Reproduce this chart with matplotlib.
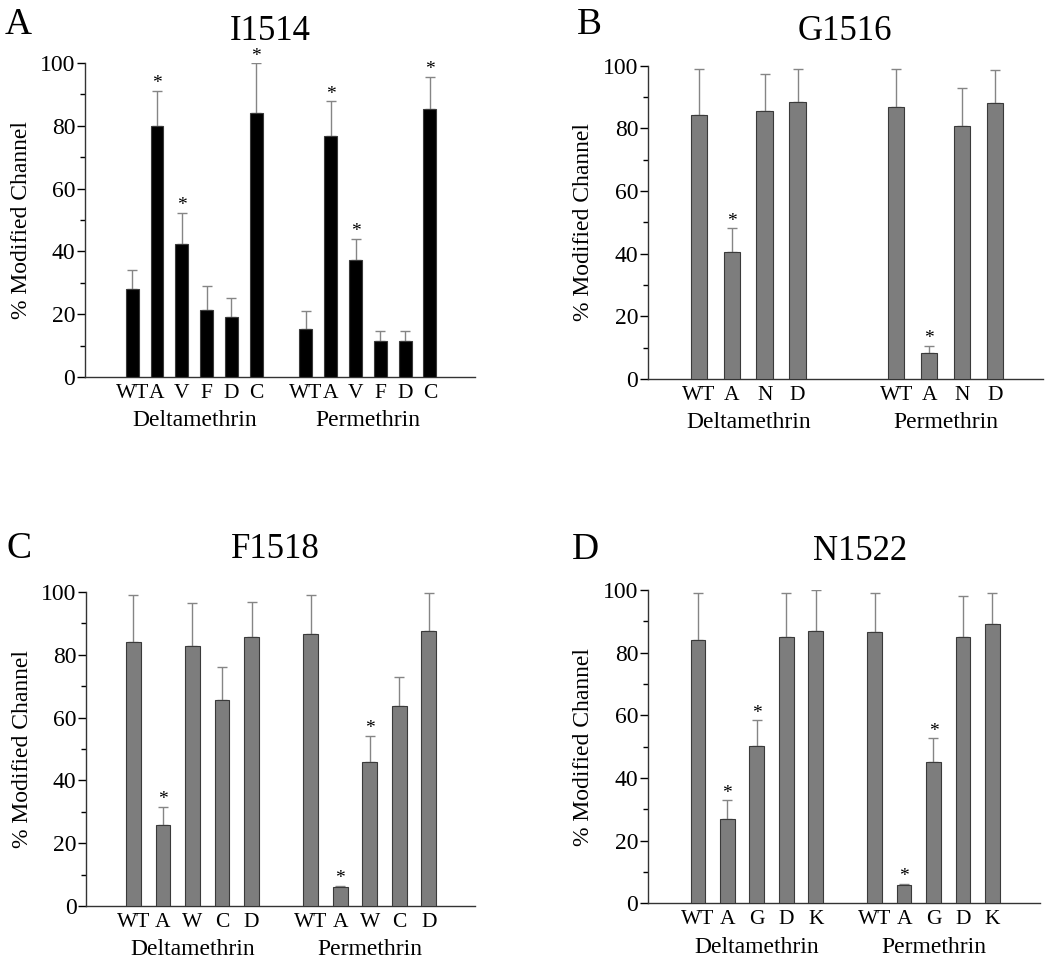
import matplotlib
matplotlib.use("Agg")
import matplotlib.pyplot as plt
from matplotlib.ticker import MultipleLocator

plt.rcParams["font.family"] = ["Liberation Serif", "DejaVu Serif"]

# Panel A - I1514
A_LABELS = ["WT", "A", "V", "F", "D", "C"]
A_DELTA = [28.2, 80.0, 42.3, 21.3, 19.0, 83.9]
A_DELTA_ERR = [5.8, 11.2, 10.0, 7.7, 6.2, 15.9]
A_PERM = [15.2, 76.8, 37.3, 11.5, 11.6, 85.3]
A_PERM_ERR = [5.8, 11.0, 6.7, 3.1, 3.0, 10.3]
A_DELTA_SIG = ["A", "V", "C"]
A_PERM_SIG = ["A", "V", "C"]

# Panel B - G1516
B_LABELS = ["WT", "A", "N", "D"]
B_DELTA = [84.2, 40.5, 85.5, 88.5]
B_DELTA_ERR = [14.9, 7.6, 11.9, 10.6]
B_PERM = [86.7, 8.2, 80.8, 88.1]
B_PERM_ERR = [12.2, 2.5, 12.1, 10.4]
B_DELTA_SIG = ["A"]
B_PERM_SIG = ["A"]

# Panel C - F1518
C_LABELS = ["WT", "A", "W", "C", "D"]
C_DELTA = [84.0, 25.7, 82.8, 65.7, 85.5]
C_DELTA_ERR = [15.0, 5.9, 13.5, 10.3, 11.3]
C_PERM = [86.6, 6.1, 45.7, 63.6, 87.6]
C_PERM_ERR = [12.3, 0.3, 8.4, 9.3, 11.9]
C_DELTA_SIG = ["A"]
C_PERM_SIG = ["A", "W"]

# Panel D - N1522
D_LABELS = ["WT", "A", "G", "D", "K"]
D_DELTA = [84.1, 26.8, 50.1, 85.1, 86.8]
D_DELTA_ERR = [15.0, 6.0, 8.3, 14.0, 13.0]
D_PERM = [86.6, 5.9, 45.2, 85.1, 89.0]
D_PERM_ERR = [12.4, 0.3, 7.4, 13.1, 10.1]
D_DELTA_SIG = ["A", "G"]
D_PERM_SIG = ["A", "G"]

GROUPS = ["Deltamethrin", "Permethrin"]


def draw_panel(ax, labels, delta, delta_err, perm, perm_err, delta_sig, perm_sig,
               gap, xlim, color, width=0.5):
    n = len(labels)
    x_delta = list(range(n))
    x_perm = [i + n + gap for i in range(n)]

    for xs, vals, errs, sig in [(x_delta, delta, delta_err, delta_sig),
                                (x_perm, perm, perm_err, perm_sig)]:
        ax.bar(xs, vals, width=width, color=color, edgecolor="#3a3a3a",
               linewidth=0.8, zorder=3)
        ax.errorbar(xs, vals, yerr=[[0] * n, errs], fmt="none", ecolor="#858585",
                    elinewidth=1.0, capsize=3.5, capthick=1.0, zorder=2)
        # significance stars
        for x, v, e, lab in zip(xs, vals, errs, labels):
            if lab in sig:
                ax.annotate("*", xy=(x, v + e), xytext=(0, -1), textcoords="offset points",
                            ha="center", va="bottom", fontsize=14, annotation_clip=False)

    ax.set_xticks(x_delta + x_perm)
    ax.set_xticklabels(labels + labels, fontsize=15.5)
    ax.tick_params(axis="x", length=0, pad=5)

    # group names under tick labels
    for xs, name in zip([x_delta, x_perm], GROUPS):
        ax.annotate(name, xy=((xs[0] + xs[-1]) / 2, 0), xytext=(0, -24),
                    textcoords="offset points", ha="center", va="top",
                    fontsize=17, annotation_clip=False)

    ax.set_xlim(*xlim)
    ax.set_ylim(0, 100)
    ax.yaxis.set_major_locator(MultipleLocator(20))
    ax.yaxis.set_minor_locator(MultipleLocator(10))
    ax.tick_params(axis="y", which="major", length=6, width=1, labelsize=17, pad=1)
    ax.tick_params(axis="y", which="minor", length=3.5, width=1)
    ax.set_ylabel("% Modified Channel", fontsize=17, labelpad=6)
    for s in ["top", "right"]:
        ax.spines[s].set_visible(False)
    for s in ["left", "bottom"]:
        ax.spines[s].set_linewidth(1.0)
        ax.spines[s].set_color("#333333")


fig = plt.figure(figsize=(10.5, 9.67), dpi=100)

ax_a = fig.add_axes([0.081, 0.610, 0.371, 0.325])
ax_b = fig.add_axes([0.617, 0.608, 0.376, 0.324])
ax_c = fig.add_axes([0.082, 0.063, 0.370, 0.325])
ax_d = fig.add_axes([0.617, 0.066, 0.373, 0.324])

draw_panel(ax_a, A_LABELS, A_DELTA, A_DELTA_ERR, A_PERM, A_PERM_ERR,
           A_DELTA_SIG, A_PERM_SIG, gap=1, xlim=(-1.9, 13.8), color="black", width=0.52)
draw_panel(ax_b, B_LABELS, B_DELTA, B_DELTA_ERR, B_PERM, B_PERM_ERR,
           B_DELTA_SIG, B_PERM_SIG, gap=2, xlim=(-1.55, 10.45), color="#7d7d7d")
draw_panel(ax_c, C_LABELS, C_DELTA, C_DELTA_ERR, C_PERM, C_PERM_ERR,
           C_DELTA_SIG, C_PERM_SIG, gap=1, xlim=(-1.6, 11.55), color="#7d7d7d")
draw_panel(ax_d, D_LABELS, D_DELTA, D_DELTA_ERR, D_PERM, D_PERM_ERR,
           D_DELTA_SIG, D_PERM_SIG, gap=1, xlim=(-1.7, 11.6), color="#7d7d7d")

# titles and panel letters
W, H = 1050, 967
for (x, y, txt) in [(270, 32, "I1514"), (845, 32, "G1516"), (275, 550, "F1518"), (860, 552, "N1522")]:
    fig.text(x / W, 1 - y / H, txt, ha="center", va="center", fontsize=25)
for (x, y, txt) in [(5, 25, "A"), (577, 25, "B"), (7, 549, "C"), (572, 550, "D")]:
    fig.text(x / W, 1 - y / H, txt, ha="left", va="center", fontsize=27)

fig.savefig("out.png", dpi=100, facecolor="white")
